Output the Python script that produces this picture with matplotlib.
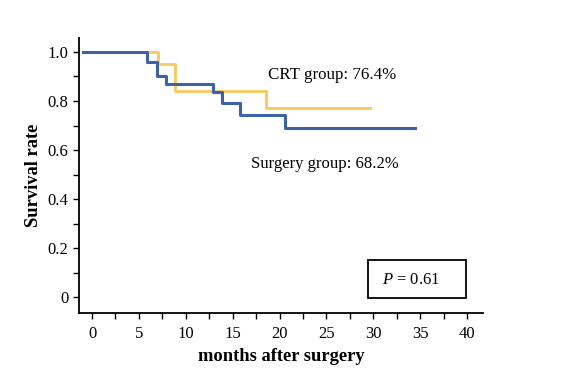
import matplotlib
matplotlib.use("Agg")
import matplotlib.pyplot as plt
from matplotlib.ticker import MultipleLocator
from matplotlib.patches import Rectangle

plt.rcParams['font.family'] = ['Liberation Serif', 'DejaVu Serif']
plt.rcParams['mathtext.fontset'] = 'custom'
plt.rcParams['mathtext.it'] = 'Liberation Serif:italic'
plt.rcParams['mathtext.rm'] = 'Liberation Serif'

# Kaplan-Meier step data (time in months, survival)
crt_time = [-1.0, 7.0, 8.85, 18.6, 29.6]
crt_surv = [1.0, 0.95, 0.84, 0.773, 0.773]
surg_time = [-1.0, 5.9, 6.9, 7.9, 12.9, 13.9, 15.8, 20.6, 34.5]
surg_surv = [1.0, 0.96, 0.90, 0.87, 0.835, 0.79, 0.743, 0.689, 0.689]

xticks = [0, 5, 10, 15, 20, 25, 30, 35, 40]
yticks = [0, 0.2, 0.4, 0.6, 0.8, 1.0]
ytick_labels = ['0', '0.2', '0.4', '0.6', '0.8', '1.0']

fig = plt.figure(figsize=(5.72, 3.85), dpi=100)
ax = fig.add_axes([0.1381, 0.187, 0.7063, 0.7143])

ax.step(crt_time, crt_surv, where='post', color='#F9C85E', lw=2.0, zorder=2)
ax.step(surg_time, surg_surv, where='post', color='#3E62A8', lw=2.2, zorder=3)

ax.set_xlim(-1.39, 41.7)
ax.set_ylim(-0.065, 1.057)
ax.set_xticks(xticks)
ax.set_yticks(yticks)
ax.set_yticklabels(ytick_labels)
ax.xaxis.set_minor_locator(MultipleLocator(2.5))
ax.yaxis.set_minor_locator(MultipleLocator(0.1))
ax.tick_params(which='both', direction='out', labelsize=12, width=1.0, color='black')
ax.tick_params(which='major', length=4)
ax.tick_params(which='minor', length=4)
ax.tick_params(axis='x', pad=5)

for s in ['top', 'right']:
    ax.spines[s].set_visible(False)
for s in ['left', 'bottom']:
    ax.spines[s].set_linewidth(1.3)

ax.set_xlabel('months after surgery', fontsize=13.3, fontweight='bold', labelpad=5)
ax.set_ylabel('Survival rate', fontsize=13.3, fontweight='bold', labelpad=4)

ax.text(18.8, 0.908, 'CRT group: 76.4%', fontsize=12.2, ha='left', va='center')
ax.text(17.0, 0.543, 'Surgery group: 68.2%', fontsize=12.0, ha='left', va='center')

ax.add_patch(Rectangle((29.4, -0.004), 10.5, 0.155, fill=False, ec='black', lw=1.3, zorder=4))
ax.text(30.9, 0.07, r'$P$ = 0.61', fontsize=12, ha='left', va='center')

fig.savefig('out.png', dpi=100)
